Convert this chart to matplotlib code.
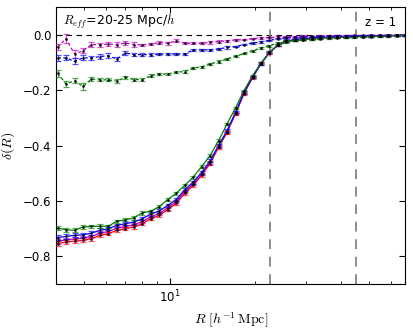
import matplotlib
matplotlib.use('Agg')
import matplotlib.pyplot as plt
import numpy as np

plt.rcParams['mathtext.fontset'] = 'cm'
plt.rcParams['font.family'] = 'DejaVu Sans'
plt.rcParams['xtick.direction'] = 'in'
plt.rcParams['ytick.direction'] = 'in'

# radial bins [Mpc/h]
R = [4.05, 4.33, 4.64, 4.97, 5.32, 5.70, 6.10, 6.53, 7.00, 7.49,
     8.02, 8.59, 9.20, 9.85, 10.55, 11.29, 12.09, 12.95, 13.87, 14.85,
     15.90, 17.03, 18.23, 19.53, 20.91, 22.39, 23.97, 25.67, 27.49, 29.44,
     31.52, 33.75, 36.14, 38.71, 41.45, 44.38, 47.52, 50.89, 54.51, 58.37,
     62.50, 66.93]

# integrated profiles (solid)
red_int = [-0.754, -0.748, -0.745, -0.742, -0.736, -0.724, -0.718, -0.706, -0.700, -0.694,
           -0.682, -0.664, -0.652, -0.631, -0.609, -0.573, -0.544, -0.508, -0.465, -0.407,
           -0.353, -0.285, -0.213, -0.155, -0.105, -0.065, -0.038, -0.024, -0.019, -0.016,
           -0.013, -0.011, -0.010, -0.009, -0.008, -0.007, -0.006, -0.005, -0.004, -0.004,
           -0.003, -0.003]
mag_int = [-0.746, -0.740, -0.737, -0.734, -0.728, -0.716, -0.710, -0.698, -0.692, -0.686,
           -0.674, -0.657, -0.645, -0.625, -0.603, -0.567, -0.539, -0.503, -0.461, -0.404,
           -0.350, -0.283, -0.211, -0.154, -0.104, -0.065, -0.038, -0.024, -0.019, -0.016,
           -0.013, -0.011, -0.010, -0.009, -0.008, -0.007, -0.006, -0.005, -0.004, -0.004,
           -0.003, -0.003]
blue_int = [-0.732, -0.728, -0.724, -0.722, -0.716, -0.706, -0.700, -0.688, -0.682, -0.676,
            -0.664, -0.647, -0.636, -0.616, -0.595, -0.560, -0.532, -0.497, -0.455, -0.399,
            -0.346, -0.280, -0.209, -0.153, -0.104, -0.064, -0.037, -0.023, -0.018, -0.015,
            -0.012, -0.010, -0.009, -0.008, -0.007, -0.006, -0.005, -0.005, -0.004, -0.003,
            -0.003, -0.002]
green_int = [-0.698, -0.704, -0.706, -0.694, -0.692, -0.691, -0.691, -0.673, -0.668, -0.661,
             -0.643, -0.637, -0.620, -0.595, -0.572, -0.544, -0.514, -0.476, -0.436, -0.382,
             -0.322, -0.264, -0.202, -0.148, -0.103, -0.064, -0.038, -0.026, -0.021, -0.018,
             -0.015, -0.013, -0.011, -0.010, -0.009, -0.008, -0.007, -0.006, -0.005, -0.004,
             -0.003, -0.003]
err_int = [0.008, 0.008, 0.007, 0.007, 0.007, 0.007, 0.006, 0.006, 0.006, 0.006,
           0.006, 0.006, 0.006, 0.006, 0.005, 0.005, 0.005, 0.005, 0.005, 0.005,
           0.005, 0.004, 0.004, 0.004, 0.004, 0.004, 0.003, 0.003, 0.003, 0.003,
           0.003, 0.003, 0.002, 0.002, 0.002, 0.002, 0.002, 0.002, 0.002, 0.002,
           0.002, 0.002]

# differential profiles (dotted)
mag_dif = [-0.045, -0.014, -0.070, -0.058, -0.036, -0.036, -0.034, -0.036, -0.030, -0.036,
           -0.037, -0.034, -0.029, -0.031, -0.022, -0.031, -0.031, -0.031, -0.028, -0.025,
           -0.022, -0.019, -0.018, -0.014, -0.012, -0.010, -0.009, -0.008, -0.007, -0.006,
           -0.006, -0.005, -0.005, -0.004, -0.004, -0.003, -0.003, -0.003, -0.002, -0.002,
           -0.002, -0.002]
mag_err = [0.012, 0.016, 0.014, 0.010, 0.008, 0.007, 0.008, 0.010, 0.006, 0.008,
           0.005, 0.005, 0.005, 0.005, 0.005, 0.004, 0.004, 0.004, 0.004, 0.004,
           0.004, 0.003, 0.003, 0.003, 0.003, 0.003, 0.003, 0.003, 0.003, 0.003,
           0.002, 0.002, 0.002, 0.002, 0.002, 0.002, 0.002, 0.002, 0.002, 0.002,
           0.002, 0.002]
blue_dif = [-0.084, -0.084, -0.096, -0.084, -0.084, -0.079, -0.076, -0.088, -0.066, -0.072,
            -0.072, -0.072, -0.070, -0.070, -0.070, -0.070, -0.055, -0.055, -0.055, -0.052,
            -0.046, -0.043, -0.036, -0.031, -0.026, -0.021, -0.014, -0.012, -0.010, -0.009,
            -0.008, -0.007, -0.006, -0.005, -0.005, -0.004, -0.004, -0.003, -0.003, -0.003,
            -0.002, -0.002]
blue_err = [0.010, 0.009, 0.010, 0.009, 0.008, 0.008, 0.008, 0.007, 0.006, 0.006,
            0.005, 0.005, 0.005, 0.005, 0.005, 0.005, 0.004, 0.004, 0.004, 0.004,
            0.004, 0.003, 0.003, 0.003, 0.003, 0.003, 0.003, 0.003, 0.002, 0.002,
            0.002, 0.002, 0.002, 0.002, 0.002, 0.002, 0.002, 0.002, 0.002, 0.002,
            0.002, 0.002]
green_dif = [-0.139, -0.178, -0.166, -0.187, -0.160, -0.163, -0.163, -0.168, -0.154, -0.162,
             -0.162, -0.148, -0.142, -0.142, -0.136, -0.133, -0.121, -0.116, -0.106, -0.097,
             -0.088, -0.078, -0.068, -0.058, -0.048, -0.040, -0.030, -0.024, -0.021, -0.018,
             -0.016, -0.014, -0.012, -0.011, -0.010, -0.009, -0.008, -0.007, -0.006, -0.005,
             -0.004, -0.003]
green_err = [0.012, 0.012, 0.010, 0.012, 0.008, 0.006, 0.006, 0.008, 0.006, 0.005,
             0.005, 0.005, 0.005, 0.005, 0.004, 0.004, 0.004, 0.004, 0.004, 0.004,
             0.004, 0.003, 0.003, 0.003, 0.003, 0.003, 0.003, 0.003, 0.003, 0.002,
             0.002, 0.002, 0.002, 0.002, 0.002, 0.002, 0.002, 0.002, 0.002, 0.002,
             0.002, 0.002]

R_eff = 22.5

fig = plt.figure(figsize=(4.13, 3.30), dpi=100)
ax = fig.add_axes([0.136, 0.139, 0.845, 0.840])

ax.axhline(0.0, color='k', ls='--', lw=0.8, dashes=(5, 4), zorder=1)
ax.axvline(R_eff, color='0.55', ls='--', lw=1.4, dashes=(5, 4), zorder=1)
ax.axvline(2 * R_eff, color='0.55', ls='--', lw=1.4, dashes=(5, 4), zorder=1)

def draw(y, err, color, dashed):
    if dashed:
        ax.plot(R, y, color=color, ls='--', dashes=(2.5, 2), lw=0.9, zorder=2)
    else:
        ax.plot(R, y, color=color, ls='-', lw=0.9, zorder=2)
    ax.errorbar(R, y, yerr=err, fmt='none', ecolor=color, elinewidth=0.9,
                capsize=2, capthick=0.9, alpha=0.65, zorder=3)
    ax.plot(R, y, 'o', color='k', ms=1.8, mew=0, zorder=4)

draw(red_int, err_int, 'r', False)
draw(mag_int, err_int, 'm', False)
draw(blue_int, err_int, 'b', False)
draw(green_int, err_int, 'g', False)
draw(mag_dif, mag_err, 'm', True)
draw(blue_dif, blue_err, 'b', True)
draw(green_dif, green_err, 'g', True)

ax.set_xscale('log')
ax.set_xlim(4.0, 67.0)
ax.set_ylim(-0.9, 0.1)
ax.set_yticks([-0.8, -0.6, -0.4, -0.2, 0.0])
ax.tick_params(which='both', top=True, right=True, labelsize=8.5)
ax.tick_params(which='major', length=4)
ax.tick_params(which='minor', length=2)

ax.set_xlabel(r'$R\ [h^{-1}\,\mathrm{Mpc}]$', fontsize=10)
ax.set_ylabel(r'$\delta(R)$', fontsize=10)

ax.text(0.02, 0.945, r'$R_{eff}$=20-25 Mpc/$h$', transform=ax.transAxes,
        fontsize=9, va='center', ha='left')
ax.text(0.975, 0.945, 'z = 1', transform=ax.transAxes,
        fontsize=8.5, va='center', ha='right')

fig.savefig('out.png', dpi=100)
